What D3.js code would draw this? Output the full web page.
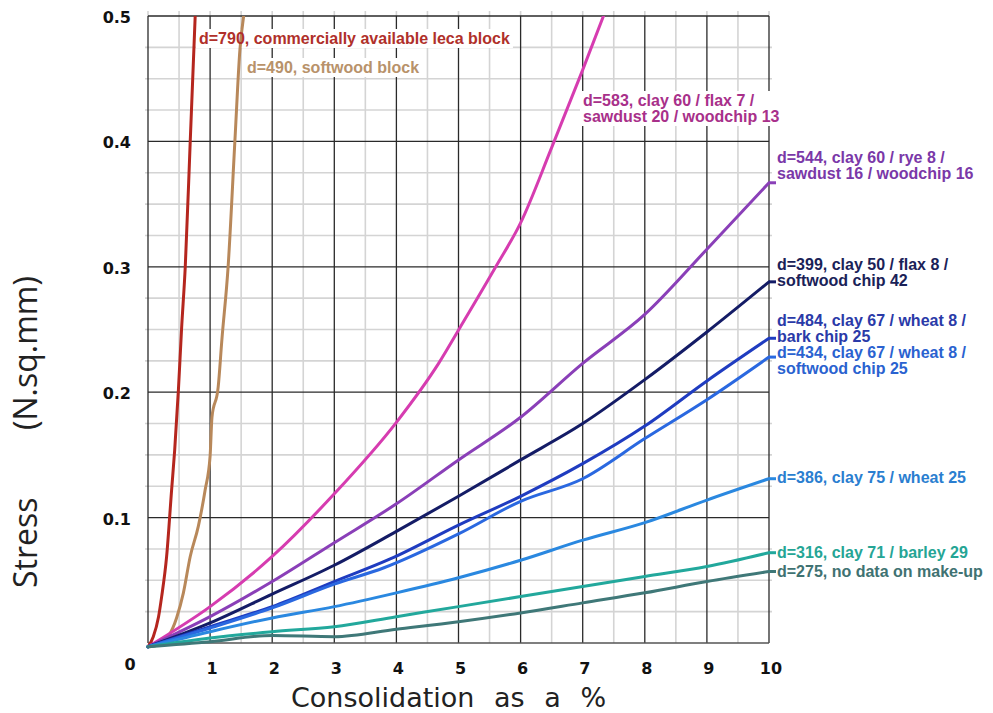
<!DOCTYPE html>
<html>
<head>
<meta charset="utf-8">
<script src="https://cdn.jsdelivr.net/npm/d3@7"></script>
<style>
  body { margin: 0; background: #fff; }
  svg { display: block; }
</style>
</head>
<body>
<div id="chart"></div>
<script>
// consolidation (%) vs stress (N/sq.mm), one array per block
var leca790 = [[0,-0.003],[0.085,0.005],[0.17,0.021],[0.22,0.037],[0.30,0.069],[0.38,0.122],[0.43,0.154],[0.49,0.202],[0.54,0.25],[0.60,0.30],[0.68,0.40],[0.76,0.50]];
var softwood490 = [[0,-0.003],[0.19,-0.001],[0.46,0.02],[0.57,0.04],[0.68,0.069],[0.81,0.093],[0.92,0.122],[1.0,0.149],[1.03,0.18],[1.13,0.204],[1.19,0.242],[1.29,0.30],[1.40,0.401],[1.48,0.473],[1.54,0.50]];
var mix583 = [[0,-0.003],[1,0.029],[2,0.069],[3,0.119],[4,0.176],[4.68,0.223],[5.03,0.252],[5.6,0.30],[6,0.335],[6.5,0.395],[7,0.457],[7.35,0.502]];
var mix544 = [[0,-0.003],[1,0.021],[2,0.049],[3,0.080],[4,0.111],[5,0.146],[6,0.180],[7,0.223],[8,0.262],[9,0.314],[10,0.367]];
var mix399 = [[0,-0.003],[1,0.016],[2,0.039],[3,0.062],[4,0.089],[5,0.117],[6,0.146],[7,0.175],[8,0.21],[9,0.248],[10,0.288]];
var mix484 = [[0,-0.003],[1,0.013],[2,0.029],[3,0.049],[3.9,0.067],[5,0.094],[6,0.117],[7,0.143],[8,0.173],[9,0.209],[10,0.243]];
var mix434 = [[0,-0.003],[1,0.012],[2,0.028],[3,0.047],[3.8,0.06],[5,0.087],[6,0.113],[7,0.131],[8,0.163],[9,0.194],[10,0.228]];
var mix386 = [[0,-0.003],[1,0.009],[2,0.02],[3,0.029],[4,0.04],[5,0.052],[6,0.066],[7,0.082],[8,0.096],[9,0.114],[10,0.131]];
var mix316 = [[0,-0.003],[1,0.004],[2,0.009],[3,0.013],[4,0.021],[5,0.029],[6,0.037],[7,0.045],[8,0.053],[9,0.061],[10,0.072]];
var unknown275 = [[0,-0.003],[1,0.001],[2,0.006],[3,0.005],[4,0.011],[5,0.017],[6,0.024],[7,0.032],[8,0.04],[9,0.049],[10,0.057]];

var seriesLabels = [
  ["d=790, commercially available leca block"],
  ["d=490, softwood block"],
  ["d=583, clay 60 / flax 7 /", "sawdust 20 / woodchip 13"],
  ["d=544, clay 60 / rye 8 /", "sawdust 16 / woodchip 16"],
  ["d=399, clay 50 / flax 8 /", "softwood chip 42"],
  ["d=484, clay 67 / wheat 8 /", "bark chip 25"],
  ["d=434, clay 67 / wheat 8 /", "softwood chip 25"],
  ["d=386, clay 75 / wheat 25"],
  ["d=316, clay 71 / barley 29"],
  ["d=275, no data on make-up"]
];
var xTicks = [1, 2, 3, 4, 5, 6, 7, 8, 9, 10];
var yTicks = [0.1, 0.2, 0.3, 0.4, 0.5];
var xTitle = "Consolidation as a %";
var yTitle = ["Stress", "(N.sq.mm)"];

// styles / layout
var consts = { width: 993, height: 713, left: 148, right: 769, top: 16, bottom: 643 };
var lineColors = ["#b5261e", "#b8885a", "#d63cb0", "#8a3fb8", "#141c66", "#1f3cc0", "#2a68e0", "#2a88e0", "#22a89c", "#3f7878"];
var textColors = ["#b0302a", "#b8926a", "#a8308a", "#7a38a8", "#1a2258", "#2a3aa8", "#2a62d0", "#2a7ed0", "#25a595", "#407272"];
// label anchor (text start x, first baseline y) in pixels
var labelPos = [[199, 44], [247, 73], [583, 106], [777, 163], [777, 270], [777, 326], [777, 358], [777, 483], [777, 558], [777, 577]];
var connectors = [false, false, false, true, true, true, true, true, true, true];

var data = [leca790, softwood490, mix583, mix544, mix399, mix484, mix434, mix386, mix316, unknown275];

var x = d3.scaleLinear().domain([0, 10]).range([consts.left, consts.right]);
var y = d3.scaleLinear().domain([0, 0.5]).range([consts.bottom, consts.top]);

var vis = d3.select("#chart").append("svg")
  .attr("width", consts.width)
  .attr("height", consts.height);

vis.append("defs").append("clipPath").attr("id", "plot")
  .append("rect")
  .attr("x", consts.left - 4).attr("y", consts.top)
  .attr("width", consts.right - consts.left + 8)
  .attr("height", consts.bottom - consts.top + 20);

// grid
var grid = vis.append("g").attr("class", "grid");
var minorX = d3.range(0.5, 10, 1);
var minorY = d3.range(0, 20).map(function (i) { return i * 0.025; })
  .filter(function (v) { return Math.round(v * 1000) % 100 !== 0; });

grid.selectAll(".mx").data(minorX).enter().append("line")
  .attr("x1", function (d) { return x(d); }).attr("x2", function (d) { return x(d); })
  .attr("y1", consts.top - 5).attr("y2", consts.bottom)
  .attr("stroke", "#d4d4d4").attr("stroke-width", 1.6);
grid.selectAll(".my").data(minorY).enter().append("line")
  .attr("x1", consts.left - 3).attr("x2", consts.right + 3)
  .attr("y1", function (d) { return y(d); }).attr("y2", function (d) { return y(d); })
  .attr("stroke", "#d4d4d4").attr("stroke-width", 1.6);
// little light stubs above the top border at the major positions
grid.selectAll(".sx").data([0].concat(xTicks)).enter().append("line")
  .attr("x1", function (d) { return x(d); }).attr("x2", function (d) { return x(d); })
  .attr("y1", consts.top - 5).attr("y2", consts.top)
  .attr("stroke", "#d4d4d4").attr("stroke-width", 1.6);

grid.selectAll(".Mx").data([0].concat(xTicks)).enter().append("line")
  .attr("x1", function (d) { return x(d); }).attr("x2", function (d) { return x(d); })
  .attr("y1", consts.top).attr("y2", consts.bottom)
  .attr("stroke", "#2a2a2a").attr("stroke-width", 1.3);
grid.selectAll(".My").data([0].concat(yTicks)).enter().append("line")
  .attr("x1", consts.left).attr("x2", consts.right)
  .attr("y1", function (d) { return y(d); }).attr("y2", function (d) { return y(d); })
  .attr("stroke", function (d) { return d === 0 ? "#555" : "#2a2a2a"; })
  .attr("stroke-width", 1.3);

// tick labels
vis.append("g").selectAll("text").data(xTicks).enter().append("text")
  .attr("x", function (d) { return x(d) + 2; })
  .attr("y", consts.bottom + 31)
  .attr("text-anchor", "middle")
  .style("font", "bold 16px 'DejaVu Sans'")
  .attr("fill", "#111")
  .text(function (d) { return d; });
vis.append("g").selectAll("text").data(yTicks).enter().append("text")
  .attr("x", 131)
  .attr("y", function (d) { return y(d) + 7; })
  .attr("text-anchor", "end")
  .style("font", "bold 16px 'DejaVu Sans'")
  .attr("fill", "#111")
  .text(function (d) { return d; });
vis.append("text")
  .attr("x", 130).attr("y", 670)
  .attr("text-anchor", "middle")
  .style("font", "bold 16px 'DejaVu Sans'")
  .attr("fill", "#111")
  .text("0");

// axis titles
vis.append("text")
  .attr("x", 291).attr("y", 707)
  .style("font", "27px 'DejaVu Sans'")
  .style("word-spacing", "11px")
  .attr("fill", "#222")
  .text(xTitle);
var yt = vis.append("text")
  .attr("transform", "translate(37,588) rotate(-90)")
  .style("font", "32px 'Open Sans'")
  .attr("fill", "#222");
yt.append("tspan").attr("x", 0).text(yTitle[0]);
yt.append("tspan").attr("x", 158).text(yTitle[1]);

// labels: backgrounds first, lines on top, text last
var bgLayer = vis.append("g");
var lineLayer = vis.append("g").attr("clip-path", "url(#plot)");
var textLayer = vis.append("g");

var line = d3.line()
  .curve(d3.curveMonotoneX)
  .x(function (d) { return x(d[0]); })
  .y(function (d) { return y(d[1]); });

lineLayer.selectAll("path").data(data).enter().append("path")
  .attr("d", line)
  .attr("fill", "none")
  .attr("stroke", function (d, i) { return lineColors[i]; })
  .attr("stroke-width", 3)
  .attr("stroke-linejoin", "round")
  .attr("stroke-linecap", "round");

data.forEach(function (series, i) {
  if (!connectors[i]) return;
  var last = series[series.length - 1];
  textLayer.append("line")
    .attr("x1", x(last[0])).attr("x2", labelPos[i][0] - 1)
    .attr("y1", y(last[1])).attr("y2", y(last[1]))
    .attr("stroke", lineColors[i]).attr("stroke-width", 3);
});

seriesLabels.forEach(function (lines, i) {
  var t = textLayer.append("text")
    .attr("x", labelPos[i][0]).attr("y", labelPos[i][1])
    .style("font", "bold 16px 'Liberation Sans', Arial, sans-serif")
    .attr("fill", textColors[i]);
  lines.forEach(function (s, k) {
    t.append("tspan").attr("x", labelPos[i][0]).attr("dy", k === 0 ? 0 : 16).text(s);
  });
  var bb = t.node().getBBox();
  bgLayer.append("rect")
    .attr("x", bb.x - 3).attr("y", bb.y - 1)
    .attr("width", bb.width + 6).attr("height", bb.height + 2)
    .attr("fill", "#fff");
});
</script>
</body>
</html>
